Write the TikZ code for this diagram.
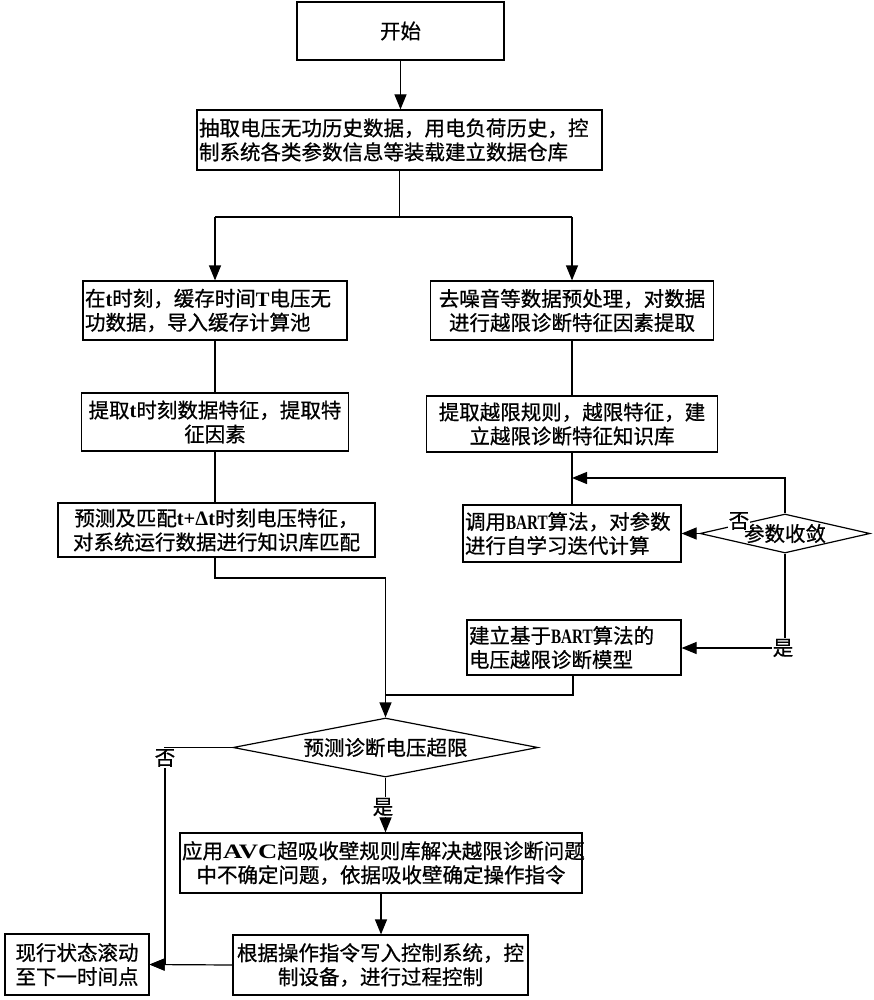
\documentclass[tikz,border=0pt]{standalone}
\usepackage{fontspec}
\usepackage{graphicx}
\setmainfont{Noto Sans CJK SC}[FakeBold=0.7,UprightFeatures={FakeBold=0.7}]
\newfontfamily\lat{Liberation Serif}
\usetikzlibrary{arrows.meta,shapes.geometric}
\newcommand{\bart}{\scalebox{0.74}[1]{\lat\bfseries BART}}
\newcommand{\avc}{\scalebox{1.3}[1]{\lat\bfseries AVC}}
\newcommand{\lt}[1]{{\lat\bfseries #1}}
\begin{document}
\begin{tikzpicture}[x=1pt,y=-1pt,
  box/.style={draw, line width=1.2pt, rectangle, inner xsep=2pt, inner ysep=0pt,
    font=\fontsize{20.5}{24}\selectfont, align=center},
  dia/.style={draw, line width=1.2pt, diamond, inner sep=0pt,
    font=\fontsize{20.5}{24}\selectfont},
  arr/.style={line width=1.2pt, -{Triangle[length=15pt,width=12pt]}},
  ln/.style={line width=1.2pt},
  lbl/.style={fill=white, inner sep=1pt, font=\fontsize{20.5}{24}\selectfont}]
\useasboundingbox[fill=white] (0,0) rectangle (873,1000);

\node[box, text width=203pt, minimum height=58pt] (start) at (400.5,31) {开始};
\node[box, text width=401pt, minimum height=60pt, align=left] (b1) at (399.5,140)
  {抽取电压无功历史数据，用电负荷历史，控\\制系统各类参数信息等装载建立数据仓库};
\node[box, text width=260pt, minimum height=59pt, align=left] (L1) at (215,310.5)
  {在\lt{t}时刻，缓存时间\lt{T}电压无\\功数据，导入缓存计算池};
\node[box, text width=263pt, minimum height=58pt] (L2) at (215,422)
  {提取\lt{t}时刻数据特征，提取特\\征因素};
\node[box, text width=313pt, minimum height=54pt] (L3) at (216.5,530)
  {预测及匹配\lt{t+Δt}时刻电压特征，\\对系统运行数据进行知识库匹配};
\node[box, text width=279pt, minimum height=59pt] (R1) at (572,310.5)
  {去噪音等数据预处理，对数据\\进行越限诊断特征因素提取};
\node[box, text width=287pt, minimum height=56pt] (R2) at (572,424)
  {提取越限规则，越限特征，建\\立越限诊断特征知识库};
\node[box, text width=214pt, minimum height=57pt, align=left] (R3) at (572,533.5)
  {调用\bart 算法，对参数\\进行自学习迭代计算};
\node[dia, minimum width=170pt, minimum height=39pt, aspect=4.36] (D2) at (785,533.5)
  {参数收敛};
\node[box, text width=210pt, minimum height=55pt, align=left] (R4) at (574,647.5)
  {建立基于\bart 算法的\\电压越限诊断模型};
\node[dia, minimum width=305pt, minimum height=59pt, aspect=5.17] (D1) at (385.5,747.5)
  {预测诊断电压超限};
\node[box, text width=398pt, minimum height=60pt] (AVC) at (381,863)
  {应用\avc 超吸收壁规则库解决越限诊断问题\\中不确定问题，依据吸收壁确定操作指令};
\node[box, text width=291pt, minimum height=60pt] (K) at (380.5,965)
  {根据操作指令写入控制系统，控\\制设备，进行过程控制};
\node[box, text width=140pt, minimum height=61pt] (X) at (77,964.5)
  {现行状态滚动\\至下一时间点};

% connectors
\draw[arr] (start.south) -- (start.south |- b1.north);
\coordinate (sp) at (399.5,217);
\coordinate (spL) at (215,217);
\coordinate (spR) at (572,217);
\draw[ln] (b1.south) -- (sp);
\draw[ln] (spL) -- (spR);
\draw[arr] (spL) -- (L1.north);
\draw[arr] (spR) -- (R1.north);
\draw[ln] (L1.south) -- (L1.south |- L2.north);
\draw[ln] (L2.south) -- (L2.south |- L3.north);
\coordinate (m1) at (215,578);
\draw[arr] (L3.south -| m1) -- (m1) -| (D1.north);
\draw[ln] (R1.south) -- (R1.south |- R2.north);
\draw[ln] (R2.south) -- (R2.south |- R3.north);
\coordinate (lp) at (785,478);
\draw[arr] (D2.north) -- (lp) -- (lp -| R3.north);
\draw[arr] (D2.west) -- (R3.east);
\coordinate (yp) at (785,648);
\draw[arr] (D2.south) -- (yp) -- (yp -| R4.east);
\coordinate (jn) at (573,695);
\draw[ln] (R4.south -| jn) -- (jn) -- (jn -| D1.north);
\draw[arr] (D1.south) -- (D1.south |- AVC.north);
\draw[arr] (AVC.south) -- (AVC.south |- K.north);
\draw[arr] (K.west) -- (X.east);
\coordinate (nc) at (165,747.5);
\draw[arr] (D1.west) -- (nc) -- (nc |- X.east) -- (X.east);

% labels
\node[lbl] at (739,521) {否};
\node[lbl] at (783,648) {是};
\node[lbl] at (165,758) {否};
\node[lbl] at (383,807) {是};
\end{tikzpicture}
\end{document}
